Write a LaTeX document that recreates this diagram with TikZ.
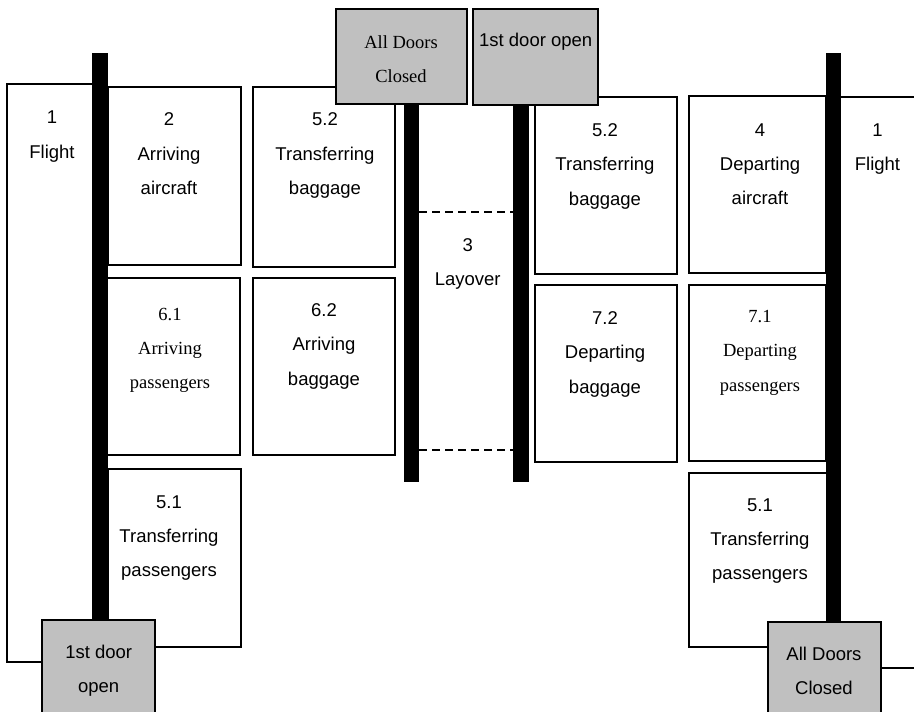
\documentclass[tikz,border=0pt]{standalone}
\usepackage{fontspec}
\setmainfont{Liberation Serif}
\newfontfamily\lsans{Liberation Sans}
\definecolor{doorgray}{HTML}{C0C0C0}
\newcommand\rbox[6]{\node[#2, minimum width={(#5-#3)*1pt}, minimum height={(#6-#4)*1pt}] (#1) at ({(#3+#5)/2},{(#4+#6)/2}) {};}
\begin{document}
\begin{tikzpicture}[x=1pt,y=-1pt,
  box/.style={draw, line width=1.3pt, fill=white, inner sep=0pt, outer sep=0pt},
  doorbox/.style={draw, line width=1.3pt, fill=doorgray, inner sep=0pt, outer sep=0pt},
  barbox/.style={fill=black, inner sep=0pt, outer sep=0pt},
  edge/.style={line width=1.3pt},
  dashline/.style={line width=1.3pt, dash pattern=on 8pt off 5pt},
  lbl/.style={anchor=north, inner sep=0pt, align=center, font=\lsans\fontsize{18.5}{34.3}\selectfont},
  slbl/.style={anchor=north, inner sep=0pt, align=center, font=\rmfamily\fontsize{18.5}{34.3}\selectfont}]
\useasboundingbox (0,0) rectangle (914,712);
\clip (0,0) rectangle (914,712);
% boxes
\rbox{b2}{box}{108}{87}{241}{265}
\rbox{b61}{box}{107}{278}{240}{455}
\rbox{b51L}{box}{108}{469}{241}{647}
\rbox{b52L}{box}{253}{87}{395}{267}
\rbox{b62}{box}{253}{278}{395}{455}
\rbox{b52R}{box}{535}{97}{677}{274}
\rbox{b72}{box}{535}{285}{677}{462}
\rbox{b4}{box}{689}{96}{826}{273}
\rbox{b71}{box}{689}{285}{826}{461}
\rbox{b51R}{box}{689}{473}{827}{647}
% bars
\rbox{lbar}{barbox}{92}{53}{108}{620}
\rbox{cbarL}{barbox}{404}{104}{419}{482}
\rbox{cbarR}{barbox}{513}{105}{529}{482}
\rbox{rbar}{barbox}{826}{53}{841}{622}
% doors
\rbox{dClosed}{doorbox}{336}{9}{467}{104}
\rbox{dOpen}{doorbox}{473}{9}{598}{105}
\rbox{ldoor}{doorbox}{42}{620}{155}{730}
\rbox{rdoor}{doorbox}{768}{622}{881}{730}
% flight outlines
\coordinate (fLtop) at (0,84);
\coordinate (fLbot) at (0,662);
\coordinate (fRtop) at (0,97);
\coordinate (fRbot) at (0,668);
\coordinate (fRtopEnd) at (930,97);
\coordinate (fRbotEnd) at (930,668);
\draw[edge] (lbar.west |- fLtop) -- (7,84) -- (7,662) -- (ldoor.west |- fLbot);
\draw[edge] (rbar.east |- fRtop) -- (fRtopEnd);
\draw[edge] (rdoor.east |- fRbot) -- (fRbotEnd);
% layover dashed lines
\coordinate (lay1) at (0,212);
\coordinate (lay2) at (0,450);
\draw[dashline] (cbarL.east |- lay1) -- (cbarR.west |- lay1);
\draw[dashline] (cbarL.east |- lay2) -- (cbarR.west |- lay2);
% labels
\node[lbl] (tfL) at (52,111) {1\\Flight};
\node[lbl] (t2) at (169,112.7) {2\\Arriving\\aircraft};
\node[lbl] (t52L) at (325,112.7) {5.2\\Transferring\\baggage};
\node[slbl] (t61) at (170,307.7) {6.1\\Arriving\\passengers};
\node[lbl] (t62) at (324,303.5) {6.2\\Arriving\\baggage};
\node[lbl] (t51L) at (169,495.3) {5.1\\Transferring\\passengers};
\node[lbl] (t3) at (467.7,238.3) {3\\Layover};
\node[slbl] (tdc) at (401,35) {All Doors\\Closed};
\node[lbl] (tdo) at (535.7,33.3) {1st door open};
\node[lbl] (t52R) at (605,123.3) {5.2\\Transferring\\baggage};
\node[lbl] (t4) at (760,123.3) {4\\Departing\\aircraft};
\node[lbl] (tfR) at (877.5,123.3) {1\\Flight};
\node[lbl] (t72) at (605,311.5) {7.2\\Departing\\baggage};
\node[slbl] (t71) at (760,310) {7.1\\Departing\\passengers};
\node[lbl] (t51R) at (760,498.3) {5.1\\Transferring\\passengers};
\node[lbl] (tld) at (98.7,645) {1st door\\open};
\node[lbl] (trd) at (824,646.7) {All Doors\\Closed};
\end{tikzpicture}
\end{document}
